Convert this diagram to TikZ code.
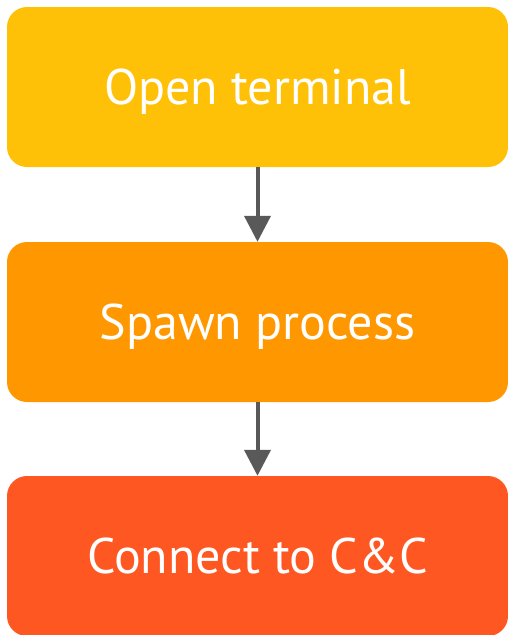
\documentclass[tikz,border=0pt]{standalone}
\usepackage{fontspec}
\setmainfont{PT Sans}
\usetikzlibrary{positioning,arrows.meta}
\definecolor{amber}{HTML}{FFC107}
\definecolor{orangeb}{HTML}{FF9800}
\definecolor{deeporange}{HTML}{FF5722}
\definecolor{arrowgray}{HTML}{595959}
\begin{document}
\begin{tikzpicture}[
      x=1pt, y=-1pt,
      stepbox/.style={fill=#1, rounded corners=20pt, minimum width=501pt,
                      minimum height=160pt, text=white, inner sep=0pt,
                      text height=35pt, text depth=0pt,
                      font=\fontsize{50}{60}\selectfont},
      flow/.style={draw=arrowgray, line width=4pt,
                   -{Triangle[width=26pt,length=26pt]}}
    ]
      \useasboundingbox (0,0) rectangle (508,635);
      \node[stepbox=amber] (open) at (257.5,87) {Open terminal};
      \node[stepbox=orangeb] (spawn) at (257.5,322) {Spawn process};
      \node[stepbox=deeporange] (connect) at (257.5,556) {Connect to C\&C};
      % arrows between the steps
      \draw[flow] (open) -- (spawn);
      \draw[flow] (spawn) -- (connect);
    \end{tikzpicture}
\end{document}
